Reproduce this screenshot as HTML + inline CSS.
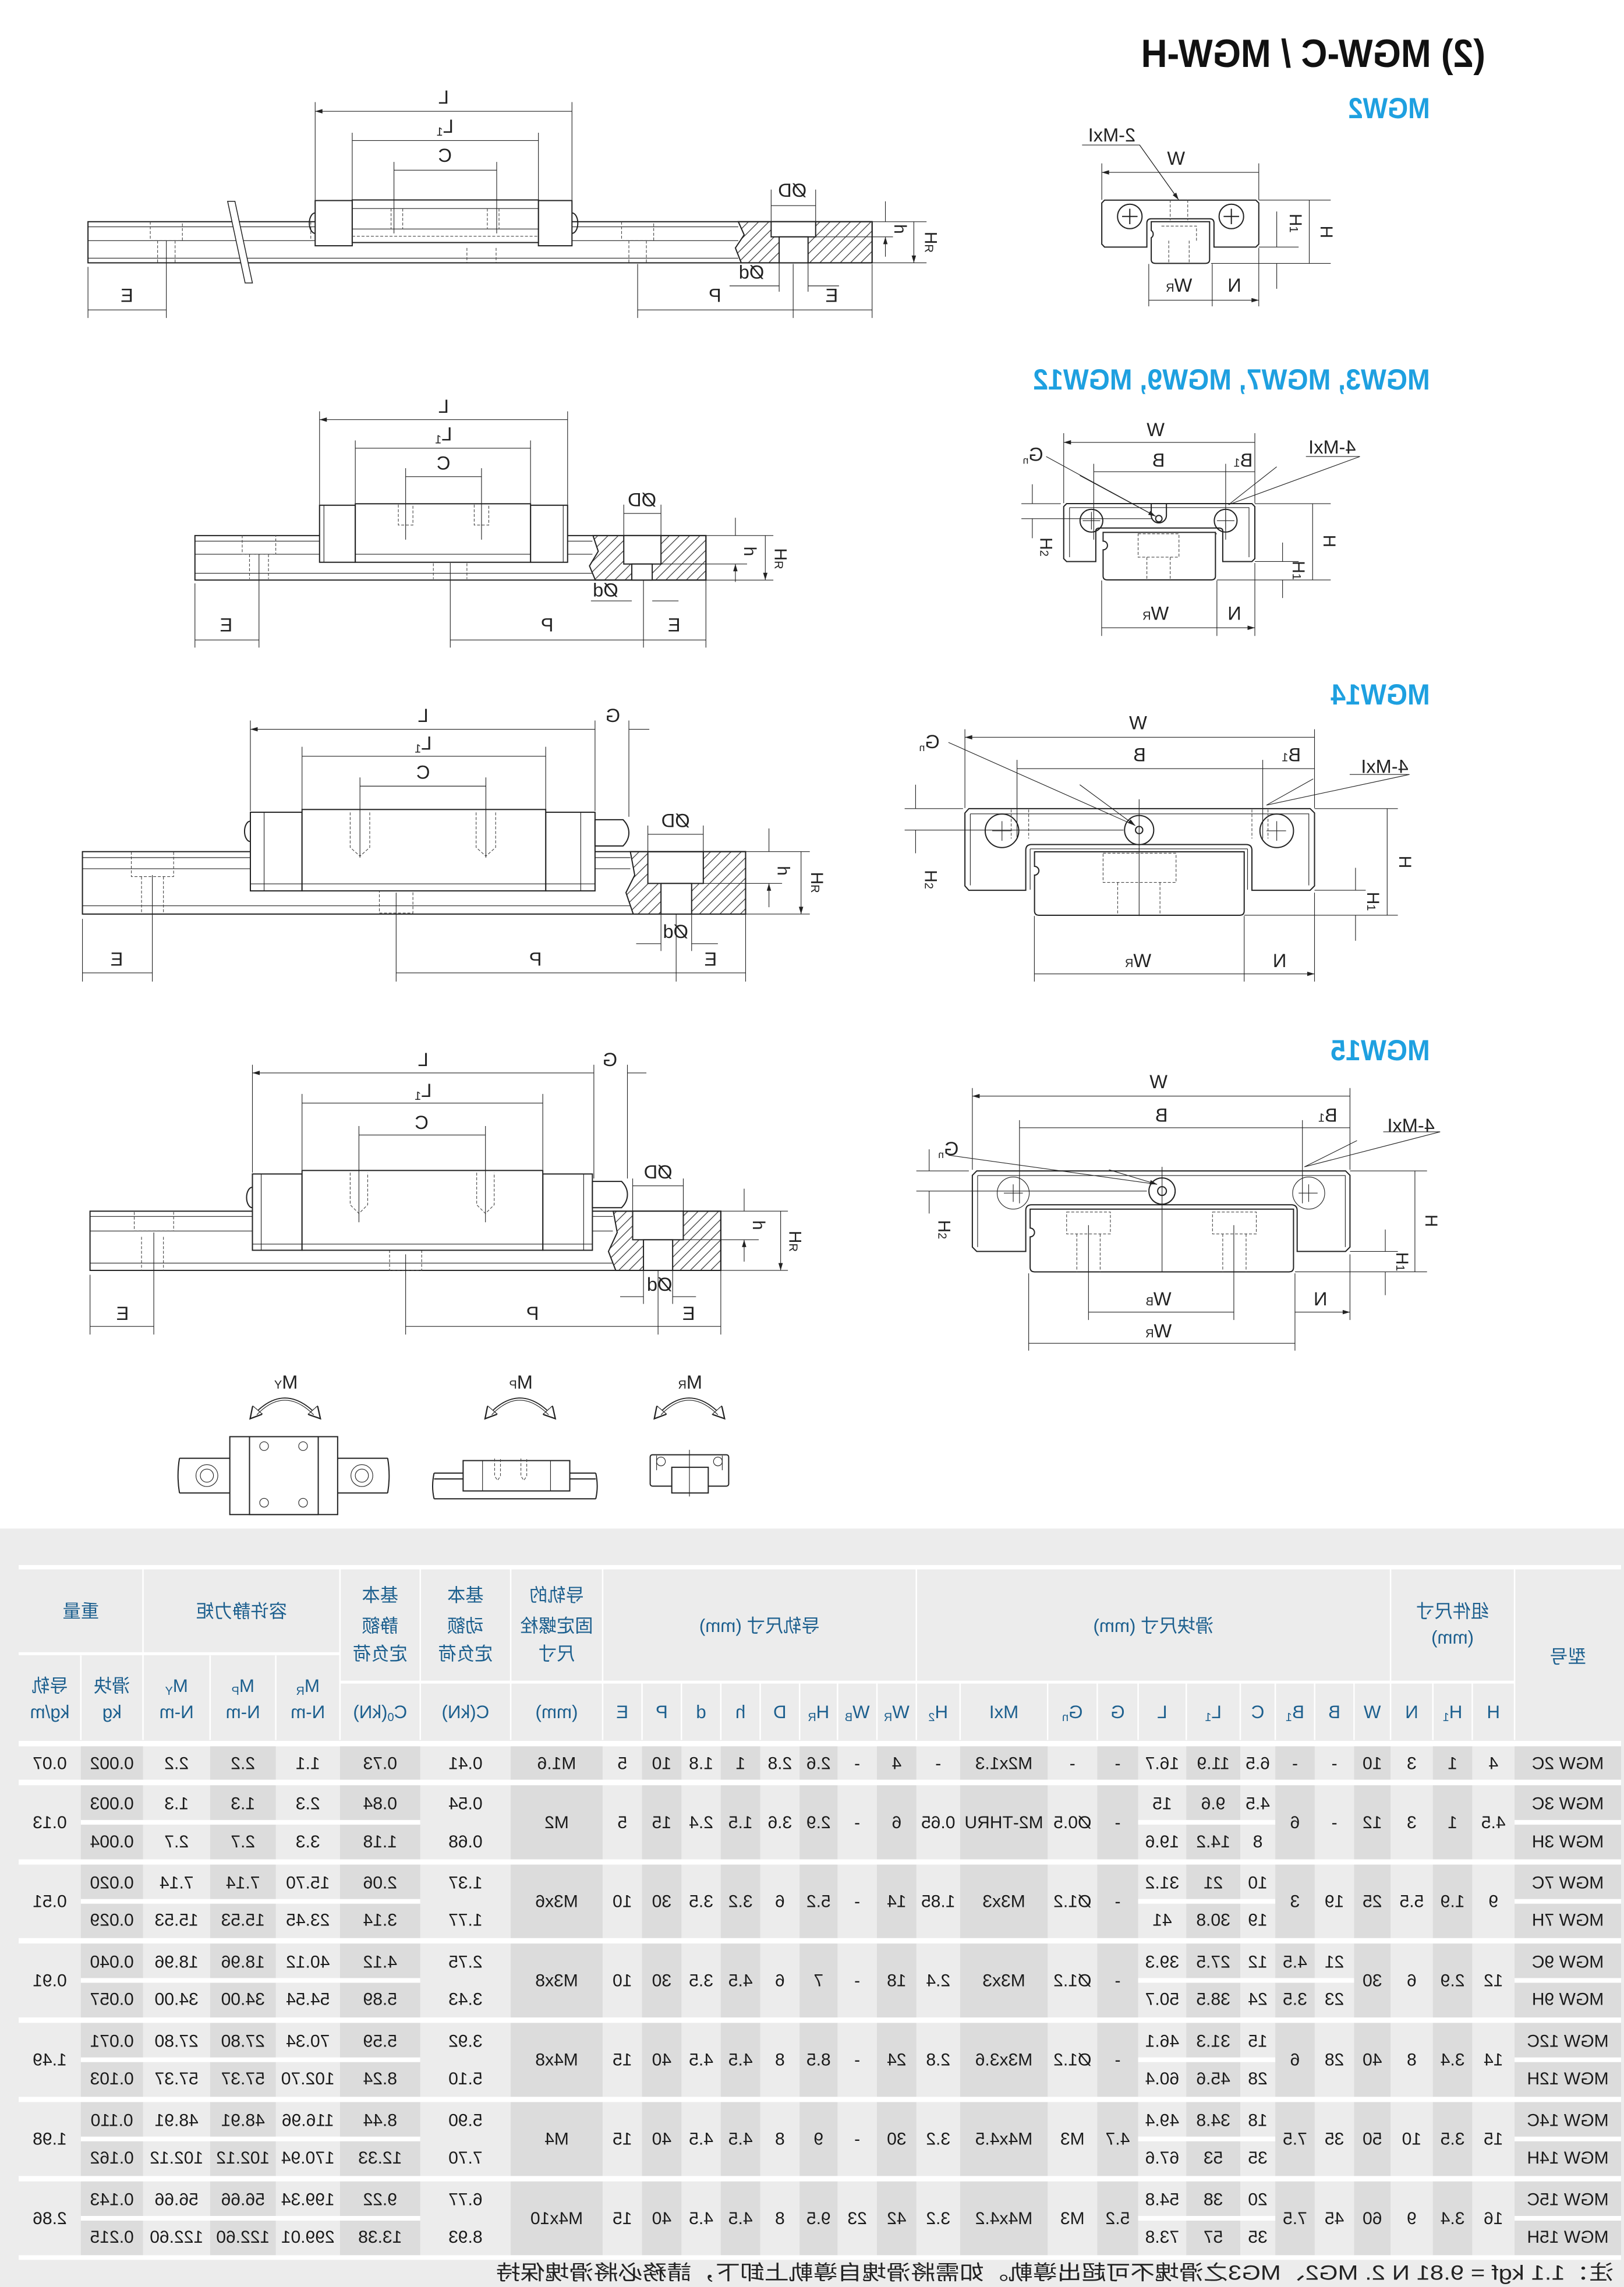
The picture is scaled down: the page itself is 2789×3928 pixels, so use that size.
<!DOCTYPE html>
<html><head><meta charset="utf-8"><style>
html,body{margin:0;padding:0;background:#fff}
svg{display:block}
.d{fill:none;stroke:#222;stroke-width:.8}
.w{fill:#fff;stroke:#222;stroke-width:.8}
.th{fill:none;stroke:#222;stroke-width:.45}
.dm{fill:none;stroke:#222;stroke-width:.45;marker-start:url(#a);marker-end:url(#a)}
.de{fill:none;stroke:#222;stroke-width:.45;marker-end:url(#a)}
.ds{fill:none;stroke:#444;stroke-width:.45;stroke-dasharray:2 1.2}
.mo{fill:none;stroke:#222;stroke-width:.7;marker-start:url(#b);marker-end:url(#b)}
.lb{font:13px "Liberation Sans",sans-serif;fill:#222;text-anchor:middle}
.tx{font:12px "Liberation Sans Narrow","Liberation Sans",sans-serif;fill:#1a1a1a;text-anchor:middle}
.hd{font:12.5px "Liberation Sans Narrow","Liberation Sans","Noto Sans CJK SC",sans-serif;fill:#1c5f8e;text-anchor:middle}
.bl{font:bold 20px "Liberation Sans",sans-serif;fill:#1ea0e0;text-anchor:start}
</style></head><body>
<svg width="2789" height="3928" viewBox="0 0 1113 1568" preserveAspectRatio="none" xmlns="http://www.w3.org/2000/svg">
<defs>
<marker id="a" viewBox="0 0 10 6" refX="10" refY="3" markerWidth="8" markerHeight="3" markerUnits="userSpaceOnUse" orient="auto-start-reverse"><path d="M0,0L10,3L0,6z" fill="#222"/></marker>
<marker id="b" viewBox="0 0 10 10" refX="8" refY="5" markerWidth="9" markerHeight="9" markerUnits="userSpaceOnUse" orient="auto-start-reverse"><path d="M0,0L9,5L0,10z" fill="#fff" stroke="#222" stroke-width="1"/></marker>
<pattern id="h" patternUnits="userSpaceOnUse" width="7" height="7"><path d="M-1,1L1,-1M0,7L7,0M6,8L8,6" stroke="#333" stroke-width=".5"/></pattern>
</defs>
<rect width="1113" height="1568" fill="#fff"/>

<!-- ===== Drawing 1 (MGW2 side) ===== -->
<rect class="w" x="60.3" y="152" width="537.4" height="28.2"/>
<path class="th" d="M60.3,155.5H506M60.3,165H506M60.3,177H506"/>
<path class="ds" d="M103,152v13h22v-13M108,165v15M120,165v15M213,152v13h18v-13M320,170v10M340,170v10M426,152v13h22v-13M431,165v15M443,165v15"/>
<path fill="#fff" stroke="#222" stroke-width=".6" d="M156,138L168,194L173,194L161,138Z"/>
<rect class="w" x="216" y="137.5" width="25.4" height="31"/>
<rect class="w" x="369" y="137.5" width="23" height="31"/>
<rect class="w" x="241.4" y="137.1" width="127.6" height="29.2"/>
<path class="th" d="M241.4,143H369M241.4,157H369"/>
<path class="ds" d="M241.4,162H369M268,143v14M276,143v14M334,143v14M342,143v14"/>
<path class="d" d="M216,146a4,7 0 0 0 0,14M392,146a4,7 0 0 1 0,14"/>
<path d="M506,152H597.7V180.2H508L504,170L510,161Z" fill="url(#h)" stroke="#222" stroke-width=".8"/>
<rect class="w" x="528.5" y="152" width="30.5" height="10.4"/>
<rect class="w" x="534" y="162.4" width="19.8" height="17.8"/>
<path class="th" d="M216,70V137M392,70V137M241.4,91V137M369,91V137M270,111V160M340.4,111V160M528.5,130V152M559,130V152M534,180V200M553.8,180V200M60.3,183V218M114,165V218M437,181V218M543.6,181V218M597.7,181V218M598,152H635M559,162.4H612M598,180.2H635"/>
<path class="dm" d="M216,76.3H392M241.4,96.4H369M270,116.7H340.4M528.5,141H559M60.3,212.5H114M437,212.5H543.6M543.6,212.5H597.7M626.3,152V180.2"/>
<path class="de" d="M500,196H534M575,196H553.8M606.8,138V152M606.8,176V162.4"/>

<!-- MGW2 end -->
<path class="w" d="M757,137.2H860.7L862.7,139.2V167.4L860.7,169.4H832V153Q832,150 829,150H789Q786,150 786,153V169.4H757L755.1,167.4V139.2Z"/>
<path class="w" d="M789,152H829V178Q829,180.6 826,180.6H792Q789,180.6 789,178V163a3,3 0 0 0 0,-5Z"/>
<circle class="d" cx="774.3" cy="148.4" r="8.4"/><circle class="d" cx="843.9" cy="148.4" r="8.4"/>
<path class="d" d="M769,148.4h10.6M774.3,143.1v10.6M838.6,148.4h10.6M843.9,143.1v10.6"/>
<path class="ds" d="M802,137v14M814,137v14M796,155h24v10M801,165v15M815,165v15"/>
<path class="th" d="M755.1,112V137M862.7,112V137M862.7,137.2H912M830,180.6H912M862.7,169.4H890M787.3,181V210M830.8,181V210M862.7,170V210M741.6,99.4H781L807,136"/>
<path class="dm" d="M755.1,118.2H862.7M897.3,137.2V180.6M787.3,205.8H830.8M830.8,205.8H862.7"/>
<path class="de" d="M875,145V169.4M875,198V180.6M781,99.4L807.8,137"/>

<!-- ===== Drawing 2 ===== -->
<rect class="w" x="133.6" y="367.2" width="350.2" height="30.5"/>
<path class="th" d="M133.6,371H406M133.6,380H406M133.6,393H406"/>
<path class="ds" d="M166,367v13h23v-13M171,380v17M184,380v17M297,383v14M320,383v14"/>
<rect class="w" x="219" y="346.4" width="24.5" height="39.1"/>
<rect class="w" x="363.6" y="346.4" width="25.4" height="39.1"/>
<rect class="w" x="243.5" y="345.4" width="120.1" height="40.1"/>
<path class="th" d="M243.5,380H363.6M222,346.4V385.5M386,346.4V385.5"/>
<path class="ds" d="M273,346v14h10v-14M325,346v14h10v-14"/>
<path d="M406.4,367.2H483.8V397.7H408L404,388L410,378Z" fill="url(#h)" stroke="#222" stroke-width=".8"/>
<rect class="w" x="427.5" y="367.2" width="25.5" height="19.5"/>
<rect class="w" x="433" y="386.7" width="14" height="11"/>
<path class="th" d="M219,282V346M389,282V346M243.5,302V345M363.6,302V345M278,321V370M330,321V370M427.5,346V367M453,346V367M133.6,400V444M177.5,380V444M308.6,386V444M441,398V444M483.8,398V444M484,367.2H530M453,386.7H512M484,397.7H530"/>
<path class="dm" d="M219,287.7H389M243.5,307.3H363.6M278,326.8H330M427.5,352H453M133.6,438.8H177.5M308.6,438.8H441M441,438.8H483.8M524.5,367.2V397.7"/>
<path class="de" d="M405,412H433M465,412H447M504,355V367.2M504,399V386.7"/>

<!-- MGW3 end -->
<path class="w" d="M731,345.3H858L860,347.3V383L858,385H838V364Q838,362 835,362H754Q751,362 751,364V385H731L729,383V347.3Z"/>
<path class="th" d="M733,348H856V382M733,348V382M756,366H834"/>
<path class="w" d="M756,365H833V395Q833,397.6 830,397.6H759Q756,397.6 756,395V377a3,3 0 0 0 0,-6Z"/>
<circle class="d" cx="748" cy="357" r="7.8"/><circle class="d" cx="840" cy="357" r="7.8"/>
<path class="th" d="M742,357h12M748,351v12M834,357h12M840,351v12"/>
<path class="d" d="M789,345.3v8a5,5 0 0 0 10.4,0v-8"/><circle class="d" cx="794.2" cy="355.6" r="2.2"/>
<path class="ds" d="M780,366h28v16h-28zM786,382v15M802,382v15"/>
<path class="th" d="M729,297V345M860,297V345M749.6,318V370M840,318V370M860,345.3H912M834,397.6H912M860,385H890M755,398V436M834,398V436M860,386V436M895,313H932L842,346M717,313L792,354M700,345.3H727M700,355.6H790"/>
<path class="dm" d="M729,303.3H860M749.6,323.4H840M840,323.4H860M899.6,345.3V397.6M755,430.4H834M834,430.4H860"/>
<path class="de" d="M879,372V385M879,410V397.6M707.5,332V345.3M707.5,369V355.6M875,320L842,346M740,326L792,354"/>

<!-- ===== Drawing 3 (MGW14) ===== -->
<rect class="w" x="56.5" y="583.9" width="454.5" height="42.8"/>
<path class="th" d="M56.5,588H432M56.5,595.6H432M56.5,621H432"/>
<path class="ds" d="M90,584v17h29v-17M97,601v25M112,601v25M260,610v16h23v-16"/>
<path class="d" d="M171.6,563a4,7 0 0 0 0,14"/>
<rect class="w" x="171.6" y="556.9" width="35.4" height="53.9"/>
<rect class="w" x="374" y="556.9" width="33.8" height="53.9"/>
<rect class="w" x="207" y="555" width="167" height="55.8"/>
<path class="th" d="M181,556.9V610.8M398,556.9V610.8M207,606H374M171.6,606H207M374,606H407.8"/>
<path class="ds" d="M240,557v24l6.7,6l6.7,-6v-24M326.3,557v24l6.7,6l6.7,-6v-24"/>
<path class="w" d="M407.8,562H427Q431,566 431,571Q431,576 427,580H407.8Z"/>
<path d="M432,583.9H511V626.7H434L429,612L435,600Z" fill="url(#h)" stroke="#222" stroke-width=".8"/>
<rect class="w" x="444" y="584" width="38" height="21.7"/>
<rect class="w" x="453" y="605.7" width="21" height="21"/>
<path class="th" d="M171.6,494V556M407.8,494V556M431,494V560M207,512V555M374,512V555M246.7,533V588M333,533V588M444,566V584M482,566V584M453,627V652M474,627V652M56.5,630V673M104.4,600V673M271.5,612V673M463.4,627V673M511,627V673M511,583.9H555M482,605.7H536M511,626.7H555"/>
<path class="dm" d="M171.6,500H407.8M207,518.5H374M246.7,539H333M444,572H482M56.5,667H104.4M271.5,667H463.4M463.4,667H511M549,583.9V626.7"/>
<path class="de" d="M445,500H431M436,647H453M492,647H474M527,568V583.9M527,622V605.7"/>

<!-- MGW14 end -->
<path class="w" d="M664,554.4H897.9L900.9,557.4V607.4L897.9,610.4H858V583Q858,579 854,579H707Q703,579 703,583V610.4H664L661.3,607.4V557.4Z"/>
<path class="th" d="M665,558H897V607M665,558V607M706,582H855M706,582V610M855,582V610"/>
<path class="w" d="M709,584H852.7V624.5Q852.7,627.5 849.7,627.5H712Q709,627.5 709,624.5V600a3,3 0 0 0 0,-6Z"/>
<circle class="d" cx="686.7" cy="569.6" r="11.5"/><circle class="d" cx="875" cy="569.6" r="11.5"/>
<path class="th" d="M680,569.6h13.4M686.7,563v13.4M868,569.6h13.4M875,563v13.4"/>
<circle class="d" cx="780.7" cy="569.1" r="10"/><circle class="d" cx="780.7" cy="569.1" r="2.5"/>
<path class="ds" d="M756,585h50v20h-50zM766,605v22M795,605v22M693,555v20M705,555v20M858,555v20M869,555v20"/>
<path class="th" d="M661.3,500V554M900.9,500V554M697,521V575M865.4,521V575M900.9,554.4H958M852.7,627.5H958M900.9,610.4H936M708.9,628V673M852.7,628V673M900.9,612V673M925,531H966L868,552M650,509L778,566M620,554.4H660M620,569.1H770M780.7,548V628"/>
<path class="dm" d="M661.3,505.5H900.9M697,527H865.4M865.4,527H900.9M950.7,554.4V627.5M708.9,667.7H852.7M852.7,667.7H900.9"/>
<path class="de" d="M929,595V610.4M929,645V627.5M627.5,538V554.4M627.5,585V569.1M900,534L868,552M740,538L778,566"/>

<!-- ===== Drawing 4 (MGW15) ===== -->
<rect class="w" x="61.7" y="830.4" width="432.3" height="40.6"/>
<path class="th" d="M61.7,834H420M61.7,844H420M61.7,866H420"/>
<path class="ds" d="M92,831v13h27v-13M97,848v23M112,848v23M267,857v14h22v-14"/>
<path class="d" d="M173,814a4,7 0 0 0 0,14"/>
<rect class="w" x="173" y="804.9" width="34" height="52.3"/>
<rect class="w" x="372" y="804.9" width="34" height="52.3"/>
<rect class="w" x="207" y="802.5" width="165" height="54.7"/>
<path class="th" d="M179,804.9V857.2M400,804.9V857.2M173,853H406"/>
<path class="ds" d="M240,804v22l6,6l6,-6v-22M326.7,804v22l6,6l6,-6v-22"/>
<path class="w" d="M406,810H426Q430,814 430,819Q430,824 426,828H406Z"/>
<path d="M420.3,830.4H494V871H422L417,858L423,845Z" fill="url(#h)" stroke="#222" stroke-width=".8"/>
<rect class="w" x="433.6" y="830.4" width="34.7" height="19.6"/>
<rect class="w" x="441" y="850" width="20" height="21"/>
<path class="th" d="M173,730V804M407,730V808M430,730V808M207,750V802M372,750V802M246,772V838M332.7,772V838M433.6,808V830M468.3,808V830M441,871V894M461,871V894M61.7,874V915M105.4,845V915M278,860V915M451,871V915M494,871V915M494,830.4H540M468.3,850H520M494,871H540"/>
<path class="dm" d="M173,735.6H407M207,756.3H372M246,778.2H332.7M433.6,813H468.3M61.7,909.4H105.4M278,909.4H451M451,909.4H494M535,830.4V871"/>
<path class="de" d="M443,735.6H430M425,889H441M477,889H461M510,815V830.4M510,865V850"/>

<!-- MGW15 end -->
<path class="w" d="M669.4,802.8H922.2L925.2,805.8V855L922.2,858H889V830Q889,826 885,826H707Q703,826 703,830V858H669.4L666.4,855V805.8Z"/>
<path class="th" d="M670,806H922V855M670,806V855M706,829H886"/>
<path class="w" d="M706,829H886.5V869Q886.5,872 883.5,872H709Q706,872 706,869V848a3,3 0 0 0 0,-6Z"/>
<circle class="th" cx="694.4" cy="818" r="11"/><circle class="th" cx="896.9" cy="818" r="11"/>
<path class="th" d="M688,818h13M694.4,812v12M890,818h13M896.9,812v12"/>
<circle class="d" cx="796.4" cy="816.6" r="9"/><circle class="d" cx="796.4" cy="816.6" r="3"/>
<path class="ds" d="M731,831h30v15h-30zM738,846v26M754,846v26M831,831h30v15h-30zM838,846v26M854,846v26"/>
<path class="th" d="M666.4,746V802M925.2,746V802M698.7,768V825M892.6,768V825M925.2,802.8H978M887.5,872H978M925.2,858H958M705,873V926M887.5,873V926M925.2,860V905M746,840V905M845.6,840V905M948,776H987L894,800M650,792L793,812M628,802.8H664M628,816.6H786M796.4,800V872"/>
<path class="dm" d="M666.4,751.5H925.2M698.7,773.2H892.6M892.6,773.2H925.2M969.7,802.8V872M746,899.6H845.6M705,921H887.5M887.5,899.6H925.2"/>
<path class="de" d="M949.4,843V858M949.4,888V872M636.8,788V802.8M636.8,832V816.6M930,782L894,800M760,802L793,812"/>

<!-- ===== Moment icons ===== -->
<path class="mo" d="M172,972Q195,945 219,972"/><path class="th" d="M176,970Q195,950 215,970"/>
<path class="mo" d="M333,972Q356,945 380,972"/><path class="th" d="M337,970Q356,950 376,970"/>
<path class="mo" d="M449,972Q472,945 496,972"/><path class="th" d="M453,970Q472,950 492,970"/>
<path class="d" d="M123,999.8H157.5M123,1023.6H157.5M231.4,999.8H265.7M231.4,1023.6H265.7M123,999.8q-2,12 0,23.8M265.7,999.8q2,12 0,23.8"/>
<circle class="th" cx="141.8" cy="1011.7" r="7.5"/><circle class="th" cx="141.8" cy="1011.7" r="4.5"/>
<circle class="th" cx="248" cy="1011.7" r="7.5"/><circle class="th" cx="248" cy="1011.7" r="4.5"/>
<rect class="w" x="157.5" y="985" width="73.9" height="53.4"/>
<rect class="w" x="171" y="985" width="47.1" height="53.4"/>
<circle class="th" cx="181" cy="991.5" r="3"/><circle class="th" cx="207.7" cy="991.5" r="3"/><circle class="th" cx="181" cy="1030.3" r="3"/><circle class="th" cx="207.7" cy="1030.3" r="3"/>
<path class="d" d="M297.5,1010H408.3M297.5,1014H408.3M297.5,1027.6H408.3M297.5,1010q-2,9 0,17.6M408.3,1010q2,9 0,17.6"/>
<rect class="w" x="317.4" y="1001.4" width="73.1" height="20.8"/>
<path class="th" d="M330.7,1001.4V1022.2M377.3,1001.4V1022.2"/>
<path class="ds" d="M339,1000v12l2,3l2,-3v-12M357,1000v12l2,3l2,-3v-12"/>
<rect class="w" x="445.6" y="997.4" width="53.8" height="21.5" rx="1.5"/>
<path class="w" d="M460.4,1006H485.4V1023.6H460.4Z"/>
<circle class="th" cx="453" cy="1002" r="3"/><circle class="th" cx="492" cy="1002" r="3"/>
<path class="th" d="M472.5,994V1026M450,998v10M495,998v10"/>

<!-- ===== Table ===== -->
<rect x="0" y="1048" width="1113" height="520" fill="#ececec"/>
<g fill="#dcdcdc">
<rect x="55.4" y="1197" width="42.6" height="350"/><rect x="144" y="1197" width="45" height="350"/><rect x="233" y="1197" width="55" height="350"/><rect x="350" y="1197" width="63" height="350"/><rect x="440" y="1197" width="27" height="350"/><rect x="494" y="1197" width="27" height="350"/><rect x="548" y="1197" width="26" height="350"/><rect x="601" y="1197" width="27" height="350"/><rect x="658" y="1197" width="60" height="350"/><rect x="752" y="1197" width="28" height="350"/><rect x="813" y="1197" width="37" height="350"/><rect x="874" y="1197" width="27" height="350"/><rect x="928" y="1197" width="25" height="350"/><rect x="982" y="1197" width="27" height="350"/><rect x="1038" y="1197" width="73" height="350"/>
</g>
<g fill="#fff">
<rect x="12.8" y="1073" width="1098.2" height="3"/>
<rect x="12.8" y="1193.6" width="1098.2" height="3.7"/>
<rect x="12.8" y="1220.2" width="1098.2" height="3.8"/>
<rect x="12.8" y="1274.8" width="1098.2" height="3.6"/>
<rect x="12.8" y="1328.8" width="1098.2" height="3.7"/>
<rect x="12.8" y="1383.2" width="1098.2" height="3.7"/>
<rect x="12.8" y="1437.6" width="1098.2" height="3.6"/>
<rect x="12.8" y="1491.9" width="1098.2" height="3.7"/>
<rect x="12.8" y="1546.2" width="1098.2" height="3.2"/>
<rect x="12.8" y="1132.8" width="220.2" height="2"/>
<rect x="233" y="1152.3" width="805" height="2"/>
<rect x="55.4" y="1247.8" width="232.6" height="3.2"/><rect x="780" y="1247.8" width="94" height="3.2"/><rect x="1038" y="1247.8" width="73" height="3.2"/>
<rect x="55.4" y="1302" width="232.6" height="3.2"/><rect x="780" y="1302" width="94" height="3.2"/><rect x="1038" y="1302" width="73" height="3.2"/>
<rect x="55.4" y="1356.2" width="232.6" height="3.2"/><rect x="780" y="1356.2" width="148" height="3.2"/><rect x="1038" y="1356.2" width="73" height="3.2"/>
<rect x="55.4" y="1410.6" width="232.6" height="3.2"/><rect x="780" y="1410.6" width="94" height="3.2"/><rect x="1038" y="1410.6" width="73" height="3.2"/>
<rect x="55.4" y="1464.9" width="232.6" height="3.2"/><rect x="780" y="1464.9" width="94" height="3.2"/><rect x="1038" y="1464.9" width="73" height="3.2"/>
<rect x="55.4" y="1519.3" width="232.6" height="3.2"/><rect x="780" y="1519.3" width="94" height="3.2"/><rect x="1038" y="1519.3" width="73" height="3.2"/>
</g>
<path stroke="#fff" stroke-width="1" d="M98,1076V1193M233,1076V1193M288,1076V1193M350,1076V1193M413,1076V1193M628,1076V1193M953,1076V1193M1038,1076V1193M55.4,1135V1193M144,1135V1193M189,1135V1193M440,1154V1193M467,1154V1193M494,1154V1193M521,1154V1193M548,1154V1193M574,1154V1193M601,1154V1193M658,1154V1193M718,1154V1193M752,1154V1193M780,1154V1193M813,1154V1193M850,1154V1193M874,1154V1193M901,1154V1193M928,1154V1193M982,1154V1193M1009,1154V1193"/>

<!-- ===== All mirrored text ===== -->
<g transform="scale(-1,1)">
<text x="-1018" y="46" style="font:bold 27px 'Liberation Sans',sans-serif;fill:#111" textLength="236" lengthAdjust="spacingAndGlyphs">(2) MGW-C / MGW-H</text>
<text class="bl" x="-980" y="81" textLength="56" lengthAdjust="spacingAndGlyphs">MGW2</text>
<text class="bl" x="-980" y="267" textLength="272" lengthAdjust="spacingAndGlyphs">MGW3, MGW7, MGW9, MGW12</text>
<text class="bl" x="-980" y="483" textLength="68" lengthAdjust="spacingAndGlyphs">MGW14</text>
<text class="bl" x="-980" y="727" textLength="68" lengthAdjust="spacingAndGlyphs">MGW15</text>

<g class="lb">
<text x="-304" y="71">L</text><text x="-305" y="91">L<tspan font-size="8" dy="2">1</tspan></text><text x="-305" y="111">C</text>
<text x="-543" y="135">ØD</text><text x="-515" y="191">Ød</text>
<text x="-87" y="207">E</text><text x="-490" y="207">P</text><text x="-570" y="207">E</text>
<text x="-806" y="113">W</text><text x="-808" y="200">W<tspan font-size="8">R</tspan></text><text x="-846" y="200">N</text>
<text x="-762" y="97">2-MxI</text>

<text x="-304" y="283">L</text><text x="-304" y="302">L<tspan font-size="8" dy="2">1</tspan></text><text x="-304" y="322">C</text>
<text x="-440" y="347">ØD</text><text x="-415" y="409">Ød</text>
<text x="-155" y="433">E</text><text x="-375" y="433">P</text><text x="-462" y="433">E</text>
<text x="-792" y="299">W</text><text x="-794" y="320">B</text><text x="-852" y="320">B<tspan font-size="8">1</tspan></text>
<text x="-913" y="311">4-MxI</text><text x="-708" y="316">G<tspan font-size="7" dy="2">n</tspan></text>
<text x="-792" y="425">W<tspan font-size="8">R</tspan></text><text x="-846" y="425">N</text>

<text x="-290" y="495">L</text><text x="-420" y="495">G</text><text x="-290" y="514">L<tspan font-size="8" dy="2">1</tspan></text><text x="-290" y="534">C</text>
<text x="-463" y="567">ØD</text><text x="-463" y="643">Ød</text>
<text x="-80" y="662">E</text><text x="-367" y="662">P</text><text x="-487" y="662">E</text>
<text x="-780" y="500">W</text><text x="-781" y="522">B</text><text x="-885" y="522">B<tspan font-size="8">1</tspan></text>
<text x="-949" y="530">4-MxI</text><text x="-637" y="513">G<tspan font-size="7" dy="2">n</tspan></text>
<text x="-780" y="663">W<tspan font-size="8">R</tspan></text><text x="-877" y="663">N</text>

<text x="-290" y="731">L</text><text x="-418" y="731">G</text><text x="-290" y="752">L<tspan font-size="8" dy="2">1</tspan></text><text x="-289" y="774">C</text>
<text x="-451" y="808">ØD</text><text x="-452" y="885">Ød</text>
<text x="-84" y="905">E</text><text x="-365" y="905">P</text><text x="-472" y="905">E</text>
<text x="-794" y="746">W</text><text x="-796" y="769">B</text><text x="-910" y="769">B<tspan font-size="8">1</tspan></text>
<text x="-967" y="776">4-MxI</text><text x="-650" y="792">G<tspan font-size="7" dy="2">n</tspan></text>
<text x="-794" y="895">W<tspan font-size="8">B</tspan></text><text x="-794" y="917">W<tspan font-size="8">R</tspan></text><text x="-905" y="895">N</text>

<text x="-196" y="952">M<tspan font-size="8">Y</tspan></text><text x="-357" y="952">M<tspan font-size="8">P</tspan></text><text x="-473" y="952">M<tspan font-size="8">R</tspan></text>
</g>

<text x="-1106" y="1563" style="font:14px 'Liberation Sans','Noto Sans CJK SC',sans-serif;fill:#222" textLength="766" lengthAdjust="spacingAndGlyphs">注：1.1 kgf = 9.81 N  2. MG2、MG3之滑塊不可超出導軌。如需將滑塊自導軌上卸下，請務必將滑塊保持</text>

<g class="hd">
<text x="-1074.5" y="1140">型号</text>
<text x="-995.5" y="1109">组件尺寸</text><text x="-995.5" y="1127">(mm)</text>
<text x="-790.5" y="1119">滑块尺寸 (mm)</text>
<text x="-520.5" y="1119">导轨尺寸 (mm)</text>
<text x="-381.5" y="1098">导轨的</text><text x="-381.5" y="1119">固定螺栓</text><text x="-381.5" y="1138">尺寸</text>
<text x="-319" y="1098">基本</text><text x="-319" y="1119">动额</text><text x="-319" y="1138">定负荷</text>
<text x="-260.5" y="1098">基本</text><text x="-260.5" y="1119">静额</text><text x="-260.5" y="1138">定负荷</text>
<text x="-165.5" y="1109">容许静力矩</text>
<text x="-55.4" y="1109">重量</text>
<text x="-1023.5" y="1178">H</text><text x="-995.5" y="1178">H<tspan font-size="8" dy="2">1</tspan></text><text x="-967.5" y="1178">N</text><text x="-940.5" y="1178">W</text><text x="-914.5" y="1178">B</text><text x="-887.5" y="1178">B<tspan font-size="8" dy="2">1</tspan></text><text x="-862" y="1178">C</text><text x="-831.5" y="1178">L<tspan font-size="8" dy="2">1</tspan></text><text x="-796.5" y="1178">L</text><text x="-766" y="1178">G</text><text x="-735" y="1178">G<tspan font-size="8" dy="2">n</tspan></text><text x="-688" y="1178">MxI</text><text x="-643" y="1178">H<tspan font-size="8" dy="2">2</tspan></text><text x="-614.5" y="1178">W<tspan font-size="8" dy="2">R</tspan></text><text x="-587.5" y="1178">W<tspan font-size="8" dy="2">B</tspan></text><text x="-561" y="1178">H<tspan font-size="8" dy="2">R</tspan></text><text x="-534.5" y="1178">D</text><text x="-507.5" y="1178">h</text><text x="-480.5" y="1178">d</text><text x="-453.5" y="1178">P</text><text x="-426.5" y="1178">E</text><text x="-381.5" y="1178">(mm)</text><text x="-319" y="1178">C(kN)</text><text x="-260.5" y="1178">C<tspan font-size="8" dy="2">0</tspan><tspan dy="-2">(kN)</tspan></text>
<text x="-211" y="1160">M<tspan font-size="8" dy="2">R</tspan></text><text x="-211" y="1178">N-m</text>
<text x="-166.5" y="1160">M<tspan font-size="8" dy="2">P</tspan></text><text x="-166.5" y="1178">N-m</text>
<text x="-121" y="1160">M<tspan font-size="8" dy="2">Y</tspan></text><text x="-121" y="1178">N-m</text>
<text x="-76.7" y="1160">滑块</text><text x="-76.7" y="1178">kg</text>
<text x="-34.1" y="1160">导轨</text><text x="-34.1" y="1178">kg/m</text>
</g>

<g class="tx">
<text x="-34.1" y="1213">0.07</text><text x="-76.7" y="1213">0.002</text><text x="-121" y="1213">2.2</text><text x="-166.5" y="1213">2.2</text><text x="-211" y="1213">1.1</text><text x="-260.5" y="1213">0.73</text><text x="-319" y="1213">0.41</text><text x="-381.5" y="1213">M1.6</text><text x="-426.5" y="1213">5</text><text x="-453.5" y="1213">10</text><text x="-480.5" y="1213">1.8</text><text x="-507.5" y="1213">1</text><text x="-534.5" y="1213">2.8</text><text x="-561" y="1213">2.6</text><text x="-587.5" y="1213">-</text><text x="-614.5" y="1213">4</text><text x="-643" y="1213">-</text><text x="-688" y="1213">M2x1.3</text><text x="-735" y="1213">-</text><text x="-766" y="1213">-</text><text x="-796.5" y="1213">16.7</text><text x="-831.5" y="1213">11.9</text><text x="-862" y="1213">6.5</text><text x="-887.5" y="1213">-</text><text x="-914.5" y="1213">-</text><text x="-940.5" y="1213">10</text><text x="-967.5" y="1213">3</text><text x="-995.5" y="1213">1</text><text x="-1023.5" y="1213">4</text><text x="-1074.5" y="1213">MGW 2C</text>
<text x="-34.1" y="1253.4">0.13</text><text x="-76.7" y="1240.4">0.003</text><text x="-76.7" y="1266.6">0.004</text><text x="-121" y="1240.4">1.3</text><text x="-121" y="1266.6">2.7</text><text x="-166.5" y="1240.4">1.3</text><text x="-166.5" y="1266.6">2.7</text><text x="-211" y="1240.4">2.3</text><text x="-211" y="1266.6">3.3</text><text x="-260.5" y="1240.4">0.84</text><text x="-260.5" y="1266.6">1.18</text><text x="-319" y="1240.4">0.54</text><text x="-319" y="1266.6">0.68</text><text x="-381.5" y="1253.4">M2</text><text x="-426.5" y="1253.4">5</text><text x="-453.5" y="1253.4">15</text><text x="-480.5" y="1253.4">2.4</text><text x="-507.5" y="1253.4">1.5</text><text x="-534.5" y="1253.4">3.6</text><text x="-561" y="1253.4">2.9</text><text x="-587.5" y="1253.4">-</text><text x="-614.5" y="1253.4">6</text><text x="-643" y="1253.4">0.65</text><text x="-688" y="1253.4">M2-THRU</text><text x="-735" y="1253.4">Ø0.5</text><text x="-766" y="1253.4">-</text><text x="-796.5" y="1240.4">15</text><text x="-796.5" y="1266.6">19.6</text><text x="-831.5" y="1240.4">9.6</text><text x="-831.5" y="1266.6">14.2</text><text x="-862" y="1240.4">4.5</text><text x="-862" y="1266.6">8</text><text x="-887.5" y="1253.4">6</text><text x="-914.5" y="1253.4">-</text><text x="-940.5" y="1253.4">12</text><text x="-967.5" y="1253.4">3</text><text x="-995.5" y="1253.4">1</text><text x="-1023.5" y="1253.4">4.5</text><text x="-1074.5" y="1240.4">MGW 3C</text><text x="-1074.5" y="1266.6">MGW 3H</text>
<text x="-34.1" y="1307.6">0.51</text><text x="-76.7" y="1294.8">0.020</text><text x="-76.7" y="1320.4">0.029</text><text x="-121" y="1294.8">7.14</text><text x="-121" y="1320.4">15.53</text><text x="-166.5" y="1294.8">7.14</text><text x="-166.5" y="1320.4">15.53</text><text x="-211" y="1294.8">15.70</text><text x="-211" y="1320.4">23.45</text><text x="-260.5" y="1294.8">2.06</text><text x="-260.5" y="1320.4">3.14</text><text x="-319" y="1294.8">1.37</text><text x="-319" y="1320.4">1.77</text><text x="-381.5" y="1307.6">M3x6</text><text x="-426.5" y="1307.6">10</text><text x="-453.5" y="1307.6">30</text><text x="-480.5" y="1307.6">3.5</text><text x="-507.5" y="1307.6">3.2</text><text x="-534.5" y="1307.6">6</text><text x="-561" y="1307.6">5.2</text><text x="-587.5" y="1307.6">-</text><text x="-614.5" y="1307.6">14</text><text x="-643" y="1307.6">1.85</text><text x="-688" y="1307.6">M3x3</text><text x="-735" y="1307.6">Ø1.2</text><text x="-766" y="1307.6">-</text><text x="-796.5" y="1294.8">31.2</text><text x="-796.5" y="1320.4">41</text><text x="-831.5" y="1294.8">21</text><text x="-831.5" y="1320.4">30.8</text><text x="-862" y="1294.8">10</text><text x="-862" y="1320.4">19</text><text x="-887.5" y="1307.6">3</text><text x="-914.5" y="1307.6">19</text><text x="-940.5" y="1307.6">25</text><text x="-967.5" y="1307.6">5.5</text><text x="-995.5" y="1307.6">1.9</text><text x="-1023.5" y="1307.6">9</text><text x="-1074.5" y="1294.8">MGW 7C</text><text x="-1074.5" y="1320.4">MGW 7H</text>
<text x="-34.1" y="1361.8">0.91</text><text x="-76.7" y="1349">0.040</text><text x="-76.7" y="1374.6">0.057</text><text x="-121" y="1349">18.96</text><text x="-121" y="1374.6">34.00</text><text x="-166.5" y="1349">18.96</text><text x="-166.5" y="1374.6">34.00</text><text x="-211" y="1349">40.12</text><text x="-211" y="1374.6">54.54</text><text x="-260.5" y="1349">4.12</text><text x="-260.5" y="1374.6">5.89</text><text x="-319" y="1349">2.75</text><text x="-319" y="1374.6">3.43</text><text x="-381.5" y="1361.8">M3x8</text><text x="-426.5" y="1361.8">10</text><text x="-453.5" y="1361.8">30</text><text x="-480.5" y="1361.8">3.5</text><text x="-507.5" y="1361.8">4.5</text><text x="-534.5" y="1361.8">6</text><text x="-561" y="1361.8">7</text><text x="-587.5" y="1361.8">-</text><text x="-614.5" y="1361.8">18</text><text x="-643" y="1361.8">2.4</text><text x="-688" y="1361.8">M3x3</text><text x="-735" y="1361.8">Ø1.2</text><text x="-766" y="1361.8">-</text><text x="-796.5" y="1349">39.3</text><text x="-796.5" y="1374.6">50.7</text><text x="-831.5" y="1349">27.5</text><text x="-831.5" y="1374.6">38.5</text><text x="-862" y="1349">12</text><text x="-862" y="1374.6">24</text><text x="-887.5" y="1349">4.5</text><text x="-887.5" y="1374.6">3.5</text><text x="-914.5" y="1349">21</text><text x="-914.5" y="1374.6">23</text><text x="-940.5" y="1361.8">30</text><text x="-967.5" y="1361.8">6</text><text x="-995.5" y="1361.8">2.9</text><text x="-1023.5" y="1361.8">12</text><text x="-1074.5" y="1349">MGW 9C</text><text x="-1074.5" y="1374.6">MGW 9H</text>
<text x="-34.1" y="1416.2">1.49</text><text x="-76.7" y="1403.4">0.071</text><text x="-76.7" y="1429">0.103</text><text x="-121" y="1403.4">27.80</text><text x="-121" y="1429">57.37</text><text x="-166.5" y="1403.4">27.80</text><text x="-166.5" y="1429">57.37</text><text x="-211" y="1403.4">70.34</text><text x="-211" y="1429">102.70</text><text x="-260.5" y="1403.4">5.59</text><text x="-260.5" y="1429">8.24</text><text x="-319" y="1403.4">3.92</text><text x="-319" y="1429">5.10</text><text x="-381.5" y="1416.2">M4x8</text><text x="-426.5" y="1416.2">15</text><text x="-453.5" y="1416.2">40</text><text x="-480.5" y="1416.2">4.5</text><text x="-507.5" y="1416.2">4.5</text><text x="-534.5" y="1416.2">8</text><text x="-561" y="1416.2">8.5</text><text x="-587.5" y="1416.2">-</text><text x="-614.5" y="1416.2">24</text><text x="-643" y="1416.2">2.8</text><text x="-688" y="1416.2">M3x3.6</text><text x="-735" y="1416.2">Ø1.2</text><text x="-766" y="1416.2">-</text><text x="-796.5" y="1403.4">46.1</text><text x="-796.5" y="1429">60.4</text><text x="-831.5" y="1403.4">31.3</text><text x="-831.5" y="1429">45.6</text><text x="-862" y="1403.4">15</text><text x="-862" y="1429">28</text><text x="-887.5" y="1416.2">6</text><text x="-914.5" y="1416.2">28</text><text x="-940.5" y="1416.2">40</text><text x="-967.5" y="1416.2">8</text><text x="-995.5" y="1416.2">3.4</text><text x="-1023.5" y="1416.2">14</text><text x="-1074.5" y="1403.4">MGW 12C</text><text x="-1074.5" y="1429">MGW 12H</text>
<text x="-34.1" y="1470.5">1.98</text><text x="-76.7" y="1457.7">0.110</text><text x="-76.7" y="1483.3">0.162</text><text x="-121" y="1457.7">48.91</text><text x="-121" y="1483.3">102.12</text><text x="-166.5" y="1457.7">48.91</text><text x="-166.5" y="1483.3">102.12</text><text x="-211" y="1457.7">116.96</text><text x="-211" y="1483.3">170.94</text><text x="-260.5" y="1457.7">8.44</text><text x="-260.5" y="1483.3">12.33</text><text x="-319" y="1457.7">5.90</text><text x="-319" y="1483.3">7.70</text><text x="-381.5" y="1470.5">M4</text><text x="-426.5" y="1470.5">15</text><text x="-453.5" y="1470.5">40</text><text x="-480.5" y="1470.5">4.5</text><text x="-507.5" y="1470.5">4.5</text><text x="-534.5" y="1470.5">8</text><text x="-561" y="1470.5">9</text><text x="-587.5" y="1470.5">-</text><text x="-614.5" y="1470.5">30</text><text x="-643" y="1470.5">3.2</text><text x="-688" y="1470.5">M4x4.5</text><text x="-735" y="1470.5">M3</text><text x="-766" y="1470.5">4.7</text><text x="-796.5" y="1457.7">49.4</text><text x="-796.5" y="1483.3">67.6</text><text x="-831.5" y="1457.7">34.8</text><text x="-831.5" y="1483.3">53</text><text x="-862" y="1457.7">18</text><text x="-862" y="1483.3">35</text><text x="-887.5" y="1470.5">7.5</text><text x="-914.5" y="1470.5">35</text><text x="-940.5" y="1470.5">50</text><text x="-967.5" y="1470.5">10</text><text x="-995.5" y="1470.5">3.5</text><text x="-1023.5" y="1470.5">15</text><text x="-1074.5" y="1457.7">MGW 14C</text><text x="-1074.5" y="1483.3">MGW 14H</text>
<text x="-34.1" y="1524.9">2.86</text><text x="-76.7" y="1512">0.143</text><text x="-76.7" y="1537.6">0.215</text><text x="-121" y="1512">56.66</text><text x="-121" y="1537.6">122.60</text><text x="-166.5" y="1512">56.66</text><text x="-166.5" y="1537.6">122.60</text><text x="-211" y="1512">199.34</text><text x="-211" y="1537.6">299.01</text><text x="-260.5" y="1512">9.22</text><text x="-260.5" y="1537.6">13.38</text><text x="-319" y="1512">6.77</text><text x="-319" y="1537.6">8.93</text><text x="-381.5" y="1524.9">M4x10</text><text x="-426.5" y="1524.9">15</text><text x="-453.5" y="1524.9">40</text><text x="-480.5" y="1524.9">4.5</text><text x="-507.5" y="1524.9">4.5</text><text x="-534.5" y="1524.9">8</text><text x="-561" y="1524.9">9.5</text><text x="-587.5" y="1524.9">23</text><text x="-614.5" y="1524.9">42</text><text x="-643" y="1524.9">3.2</text><text x="-688" y="1524.9">M4x4.2</text><text x="-735" y="1524.9">M3</text><text x="-766" y="1524.9">5.2</text><text x="-796.5" y="1512">54.8</text><text x="-796.5" y="1537.6">73.8</text><text x="-831.5" y="1512">38</text><text x="-831.5" y="1537.6">57</text><text x="-862" y="1512">20</text><text x="-862" y="1537.6">35</text><text x="-887.5" y="1524.9">7.5</text><text x="-914.5" y="1524.9">45</text><text x="-940.5" y="1524.9">60</text><text x="-967.5" y="1524.9">9</text><text x="-995.5" y="1524.9">3.4</text><text x="-1023.5" y="1524.9">16</text><text x="-1074.5" y="1512">MGW 15C</text><text x="-1074.5" y="1537.6">MGW 15H</text>
</g>
</g>

<g class="lb" style="font-size:12px">
<text transform="translate(613,157) rotate(90)">h</text><text transform="translate(634,166) rotate(90)">H<tspan font-size="8">R</tspan></text>
<text transform="translate(905,159) rotate(90)">H</text><text transform="translate(884,153) rotate(90)">H<tspan font-size="8">1</tspan></text>
<text transform="translate(510,378) rotate(90)">h</text><text transform="translate(531,383) rotate(90)">H<tspan font-size="8">R</tspan></text>
<text transform="translate(907,371) rotate(90)">H</text><text transform="translate(886,391) rotate(90)">H<tspan font-size="8">1</tspan></text><text transform="translate(713,375) rotate(90)">H<tspan font-size="8">2</tspan></text>
<text transform="translate(533,597) rotate(90)">h</text><text transform="translate(556,605) rotate(90)">H<tspan font-size="8">R</tspan></text>
<text transform="translate(959,591) rotate(90)">H</text><text transform="translate(937,618) rotate(90)">H<tspan font-size="8">1</tspan></text><text transform="translate(634,603) rotate(90)">H<tspan font-size="8">2</tspan></text>
<text transform="translate(516,840) rotate(90)">h</text><text transform="translate(541,851) rotate(90)">H<tspan font-size="8">R</tspan></text>
<text transform="translate(977,837) rotate(90)">H</text><text transform="translate(957,865) rotate(90)">H<tspan font-size="8">1</tspan></text><text transform="translate(643,843) rotate(90)">H<tspan font-size="8">2</tspan></text>
</g>
</svg>
</body></html>
